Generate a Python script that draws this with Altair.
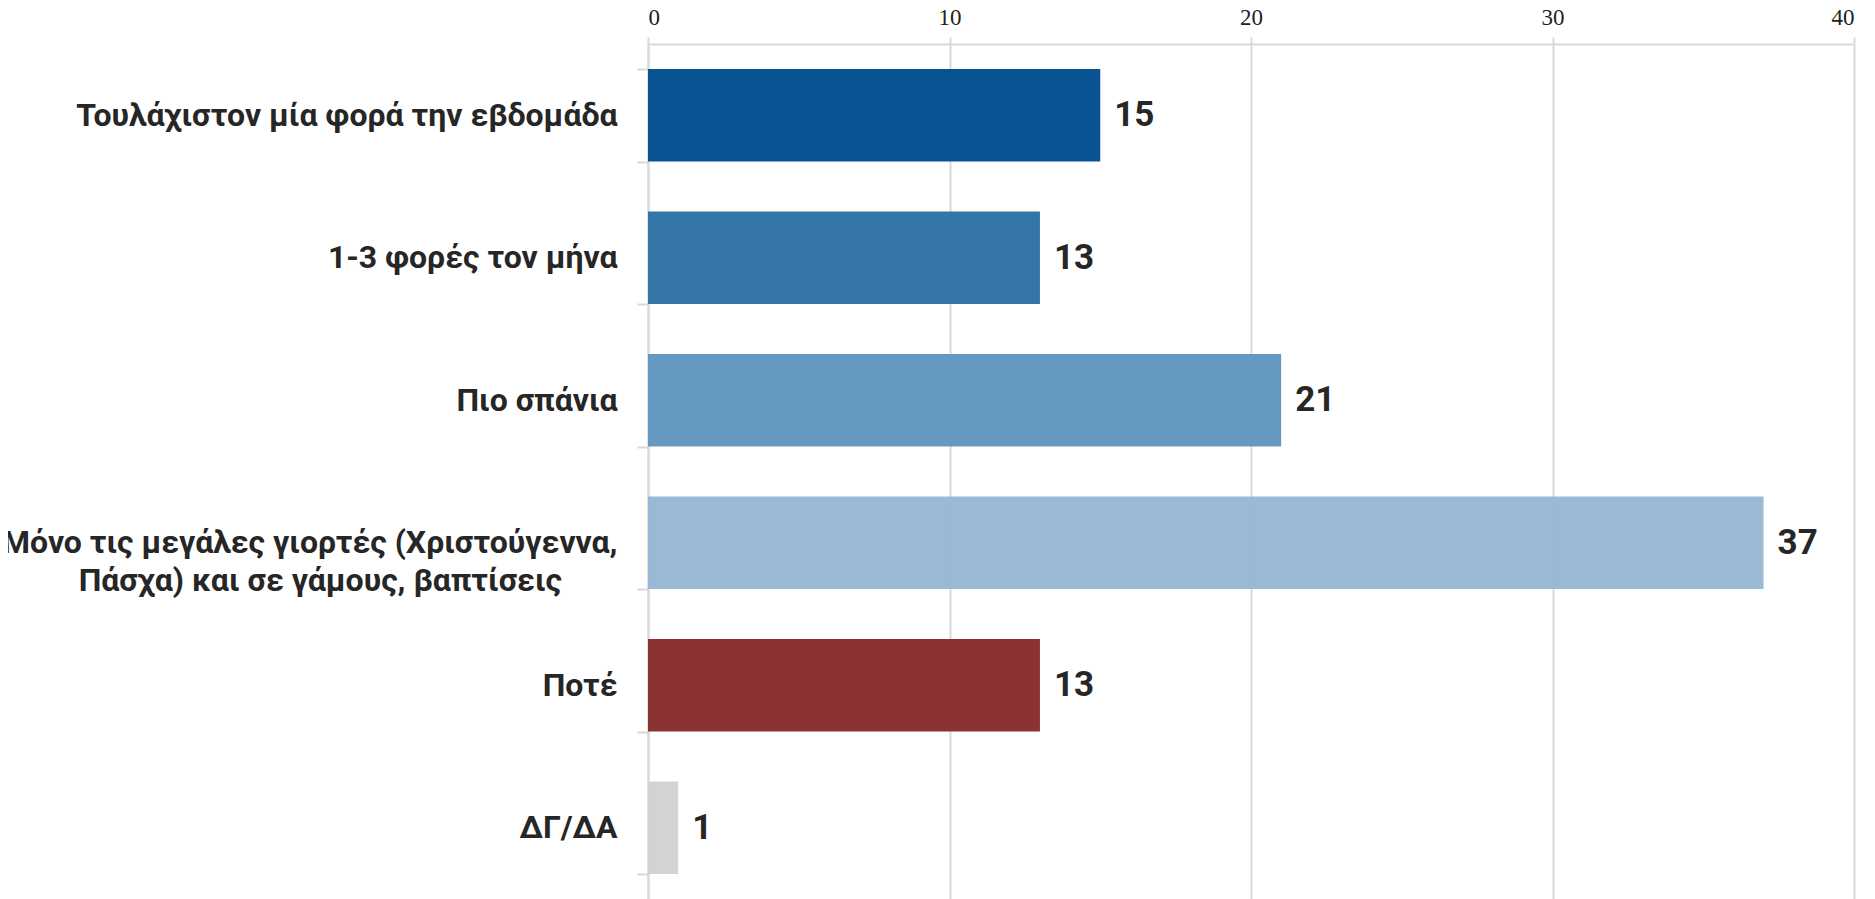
import altair as alt
import pandas as pd

categories = [
    "Τουλάχιστον μία φορά την εβδομάδα",
    "1-3 φορές τον μήνα",
    "Πιο σπάνια",
    "Μόνο τις μεγάλες γιορτές (Χριστούγεννα,|Πάσχα) και σε γάμους, βαπτίσεις"
    + "\u00a0" * 7 + "\u200b",
    "Ποτέ",
    "ΔΓ/ΔΑ",
]
values = [15, 13, 21, 37, 13, 1]
colors = ["#004c8f", "#2c70a3", "#6095bd", "#96b6d2", "#862b2b", "#d1d1d1"]
x_ticks = [0, 10, 20, 30, 40]

df = pd.DataFrame({"cat": categories, "val": values, "color": colors})
df["label"] = df["val"].astype(str)

FONT = "Roboto, 'Liberation Sans', sans-serif"
GRID = "#d9d9d9"

y_enc = alt.Y(
    "cat:N",
    sort=categories,
    scale=alt.Scale(paddingInner=0.35, paddingOuter=0.175),
    axis=alt.Axis(
        title=None,
        orient="left",
        labelExpr="split(datum.label, '|')",
        labelFont=FONT,
        labelFontSize=32,
        labelFontWeight="bold",
        labelColor="#262626",
        labelPadding=20,
        labelLimit=0,
        labelLineHeight=38,
        domainColor=GRID,
        domainWidth=2,
        tickColor=GRID,
        tickWidth=2,
        tickSize=11,
        tickBand="extent",
        grid=False,
    ),
)

x_enc = alt.X(
    "val:Q",
    scale=alt.Scale(domain=[0, 40], nice=False),
    axis=alt.Axis(
        title=None,
        orient="top",
        values=x_ticks,
        format="d",
        labelFont="Liberation Serif, DejaVu Serif, serif",
        labelFontSize=23,
        labelColor="#222222",
        labelPadding=8,
        tickColor=GRID,
        tickWidth=2,
        tickSize=7,
        domainColor=GRID,
        domainWidth=2,
        grid=True,
        gridColor=GRID,
        gridWidth=2,
    ),
)

bars = alt.Chart(df).mark_bar(opacity=0.96).encode(
    y=y_enc,
    x=x_enc,
    color=alt.Color("color:N", scale=None),
)

text = alt.Chart(df).mark_text(
    align="left",
    baseline="middle",
    dx=14,
    font=FONT,
    fontSize=35,
    fontWeight="bold",
    color="#262626",
).encode(
    y=alt.Y("cat:N", sort=categories),
    x=alt.X("val:Q"),
    text="label:N",
)

chart = (
    alt.layer(bars, text)
    .properties(
        width=1206,
        height=855,
        autosize=alt.AutoSizeParams(type="none"),
        padding={"left": 640, "top": 36, "right": 13, "bottom": 0},
    )
    .configure_view(stroke=None)
    .configure(background="white")
)

chart.save("out.html", embed_options={"renderer": "svg", "actions": False})
